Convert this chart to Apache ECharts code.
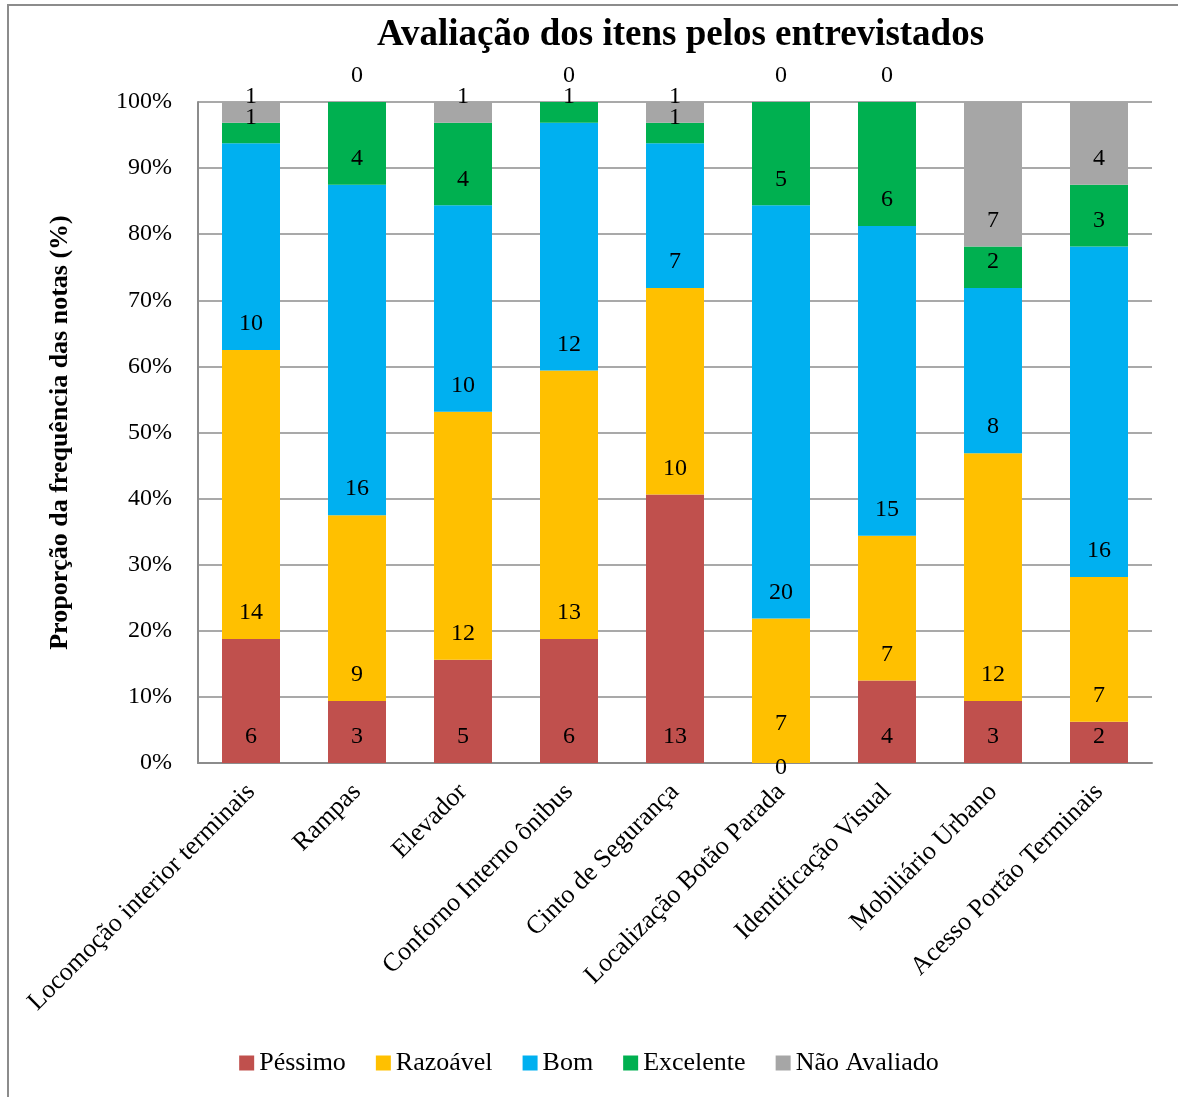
<!DOCTYPE html>
<html>
<head>
<meta charset="utf-8">
<script src="https://cdn.jsdelivr.net/npm/echarts@6/dist/echarts.min.js"></script>
<style>
html,body{margin:0;padding:0;background:#fff;}
#frame{position:absolute;left:7px;top:4px;width:1180px;height:1100px;border:2px solid #8c8c8c;box-sizing:border-box;}
#chart{position:absolute;left:0;top:0;width:1178px;height:1097px;}
</style>
</head>
<body>
<div id="frame"></div>
<div id="chart"></div>
<script>
const categories = ['Locomoção interior terminais','Rampas','Elevador','Conforno Interno ônibus','Cinto de Segurança','Localização Botão Parada','Identificação Visual','Mobiliário Urbano','Acesso Portão Terminais'];
const seriesNames = ['Péssimo','Razoável','Bom','Excelente','Não Avaliado'];
const pessimo   = [6, 3, 5, 6, 13, 0, 4, 3, 2];
const razoavel  = [14, 9, 12, 13, 10, 7, 7, 12, 7];
const bom       = [10, 16, 10, 12, 7, 20, 15, 8, 16];
const excelente = [1, 4, 4, 1, 1, 5, 6, 2, 3];
const naoAval   = [1, 0, 1, 0, 1, 0, 0, 7, 4];
const yTicks = ['0%','10%','20%','30%','40%','50%','60%','70%','80%','90%','100%'];
const colors = ['#C0504D','#FFC000','#00B0F0','#00B050','#A6A6A6'];

const all = [pessimo, razoavel, bom, excelente, naoAval];
const totals = categories.map((c,i)=>all.reduce((s,a)=>s+a[i],0));
const font = '"Liberation Serif","Times New Roman",serif';

const series = all.map((arr, si) => ({
  name: seriesNames[si],
  type: 'bar',
  stack: 'total',
  barWidth: 58,
  itemStyle: {color: colors[si]},
  label: {
    show: true,
    position: 'insideBottom',
    distance: 14,
    fontFamily: font,
    fontSize: 24,
    color: '#000',
    formatter: p => String(arr[p.dataIndex])
  },
  data: arr.map((v, i) => {
    const item = {value: v / totals[i] * 100};
    if (si === 0 && i === 5) item.label = {offset: [0, 31]};
    if (si === 1 && i === 5) item.label = {offset: [0, -13]};
    return item;
  })
}));

const chart = echarts.init(document.getElementById('chart'), null, {renderer: 'canvas'});
chart.setOption({
  animation: false,
  title: {
    text: 'Avaliação dos itens pelos entrevistados',
    left: 372, top: 12,
    textStyle: {fontFamily: font, fontSize: 37, fontWeight: 'bold', color: '#000'}
  },
  legend: {
    bottom: 16, left: 'center',
    itemWidth: 15, itemHeight: 15, itemGap: 30,
    icon: 'rect',
    textStyle: {fontFamily: font, fontSize: 26, color: '#000'},
    data: seriesNames
  },
  grid: {left: 198, right: 26, top: 102, bottom: 334},
  xAxis: {
    type: 'category',
    data: categories,
    axisLine: {lineStyle: {color: '#8c8c8c', width: 2}},
    axisTick: {show: false},
    axisLabel: {rotate: 45, margin: 25, fontFamily: font, fontSize: 26, color: '#000', interval: 0}
  },
  yAxis: {
    type: 'value',
    min: 0, max: 100, interval: 10,
    name: 'Proporção da frequência das notas (%)',
    nameLocation: 'middle',
    nameGap: 125,
    nameTextStyle: {fontFamily: font, fontSize: 26, fontWeight: 'bold', color: '#000'},
    axisLine: {show: true, lineStyle: {color: '#8c8c8c', width: 2}},
    axisTick: {show: false},
    splitLine: {lineStyle: {color: '#8c8c8c', width: 1.5}},
    axisLabel: {margin: 26, fontFamily: font, fontSize: 24, color: '#000', formatter: v => yTicks[Math.round(v/10)]}
  },
  series: series
});
</script>
</body>
</html>
